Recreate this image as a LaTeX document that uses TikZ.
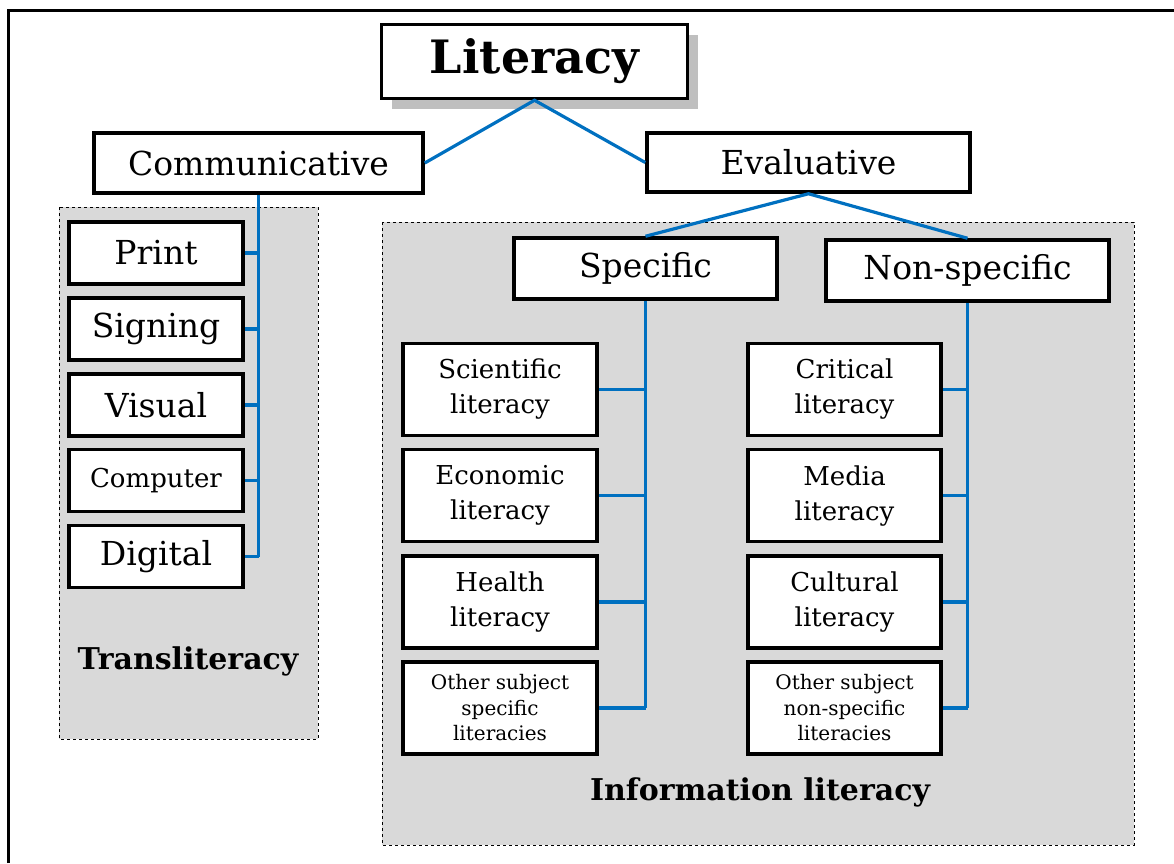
\documentclass[tikz,border=0pt]{standalone}
\usepackage{fontspec}
\setmainfont{DejaVu Serif}
\usetikzlibrary{shadows}
\definecolor{linkblue}{HTML}{0070C0}
\definecolor{panelgray}{HTML}{D9D9D9}
\newcommand\largefont{\fontsize{33}{38}\selectfont}
\newcommand\midfont{\fontsize{26}{35}\selectfont}
\newcommand\smallfont{\fontsize{26}{30}\selectfont}
\newcommand\tinyfont{\fontsize{20}{25.5}\selectfont}
\begin{document}
\begin{tikzpicture}[x=1pt,y=-1pt,
    box/.style={draw,line width=3.5pt,fill=white,inner sep=0pt,align=center},
    link/.style={draw=linkblue,line width=3.2pt},
    panel/.style={draw,dashed,line width=0.8pt,fill=panelgray}]
    \useasboundingbox (0,0) rectangle (1174,863);
    % frame of the page
    \draw[line width=3pt] (8,863) -- (8,10) -- (1174,10);

    % the two grey panels
    \draw[panel] (59,207) rectangle (318,739);
    \draw[panel] (382,222) rectangle (1134,845);
    \node (trans) at (188,661) {\fontsize{30}{34}\selectfont\bfseries Transliteracy};
    \node (info) at (760,792) {\fontsize{30}{34}\selectfont\bfseries Information literacy};

    % top of the tree
    \node[box,minimum width=306,minimum height=74,drop shadow={shadow xshift=10pt,shadow yshift=-10pt,fill=gray!50,opacity=1}]
        (lit) at (534.5,61.5) {\fontsize{46}{50}\selectfont\bfseries Literacy};
    \node[box,font=\largefont,minimum width=329,minimum height=60] (comm) at (258.5,163) {Communicative};
    \node[box,font=\largefont,minimum width=323,minimum height=59] (eval) at (808.5,162.5) {Evaluative};
    \node[box,font=\largefont,minimum width=263,minimum height=61] (spec) at (645.5,268.5) {Specific};
    \node[box,font=\largefont,minimum width=283,minimum height=61] (nonspec) at (967.5,270.5) {Non-specific};

    \draw[link] (comm.east) -- (lit.south) -- (eval.west);
    \draw[link] (spec.north) -- (eval.south) -- (nonspec.north);

    % communicative literacies
    \foreach \y/\name/\f/\txt in {253/print/\largefont/Print, 329/signing/\largefont/Signing,
        405/visual/\largefont/Visual, 480.5/computer/\smallfont/Computer, 556.5/digital/\largefont/Digital} {
        \node[box,font=\f,minimum width=174,minimum height=62] (\name) at (156,\y) {\txt};
        \draw[link] (comm.south |- \name.east) -- (\name.east);
    }
    \draw[link] (comm.south) -- (comm.south |- digital.east);

    % specific literacies
    \foreach \y/\name/\f/\txt in {389.5/sci/\midfont/{Scientific\\literacy}, 495.5/eco/\midfont/{Economic\\literacy},
        602/health/\midfont/{Health\\literacy}, 708/othspec/\tinyfont/{Other subject\\specific\\literacies}} {
        \node[box,font=\f,minimum width=194,minimum height=92] (\name) at (500,\y) {\txt};
        \draw[link] (spec.south |- \name.east) -- (\name.east);
    }
    \draw[link] (spec.south) -- (spec.south |- othspec.east);

    % non-specific literacies
    \foreach \y/\name/\f/\txt in {389.5/crit/\midfont/{Critical\\literacy}, 495.5/media/\midfont/{Media\\literacy},
        602/cult/\midfont/{Cultural\\literacy}, 708/othnon/\tinyfont/{Other subject\\non-specific\\literacies}} {
        \node[box,font=\f,minimum width=193,minimum height=92] (\name) at (844.5,\y) {\txt};
        \draw[link] (nonspec.south |- \name.east) -- (\name.east);
    }
    \draw[link] (nonspec.south) -- (nonspec.south |- othnon.east);
\end{tikzpicture}
\end{document}
